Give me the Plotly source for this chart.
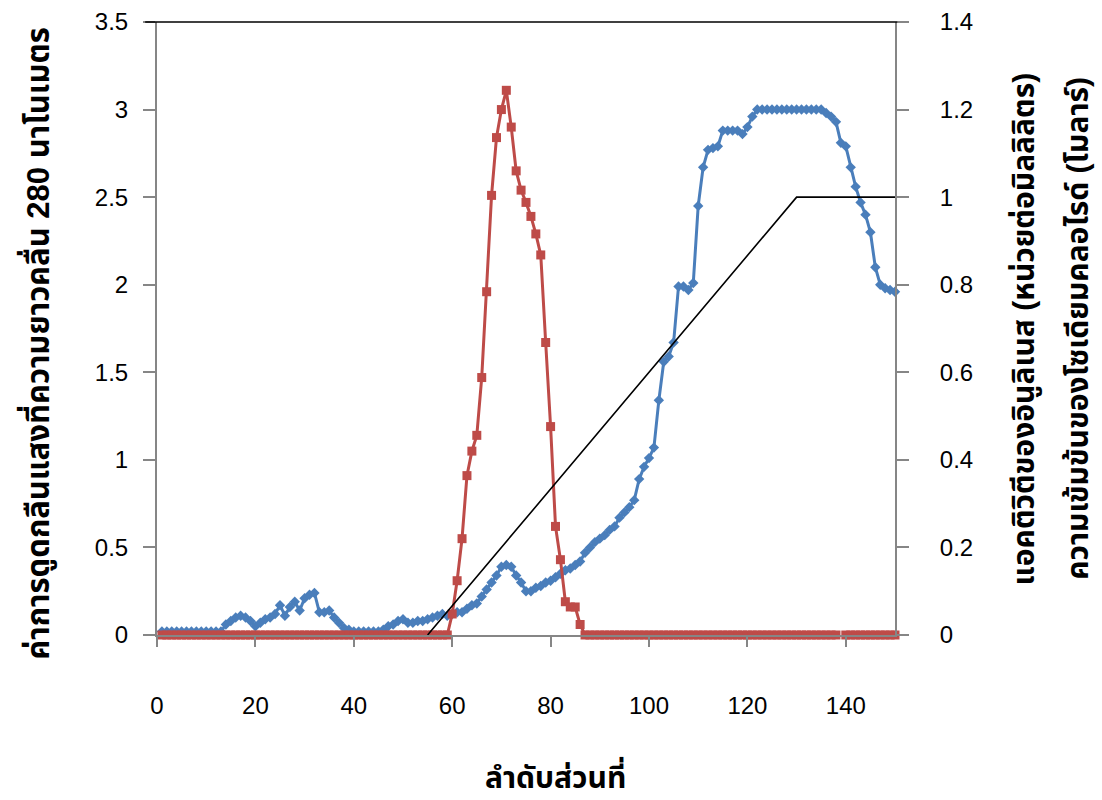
import plotly.graph_objects as go

fractions = list(range(1, 151))

absorbance_280 = (
    [0.02] * 13
    + [0.06, 0.08, 0.10, 0.11, 0.10, 0.08, 0.05, 0.07, 0.09, 0.10, 0.12, 0.17, 0.11, 0.16, 0.19, 0.14, 0.21, 0.23, 0.24,
       0.13, 0.13, 0.14, 0.10, 0.07, 0.04, 0.03]
    + [0.02] * 6
    + [0.03, 0.05, 0.06, 0.08, 0.09, 0.07, 0.07, 0.08, 0.08, 0.09, 0.10, 0.11, 0.12, 0.11, 0.12, 0.13, 0.13, 0.15,
       0.17, 0.18, 0.22, 0.26, 0.30, 0.34, 0.39, 0.40, 0.39, 0.34, 0.30, 0.25, 0.25, 0.27, 0.28, 0.30, 0.31, 0.33,
       0.35, 0.37, 0.38, 0.40, 0.42, 0.47, 0.50, 0.53, 0.55, 0.57, 0.60, 0.62, 0.67, 0.70, 0.73, 0.77, 0.89, 0.96,
       1.01, 1.07, 1.34, 1.56, 1.59, 1.67, 1.99, 1.99, 1.97, 2.01, 2.45, 2.67, 2.77, 2.78, 2.79, 2.88, 2.88, 2.88,
       2.88, 2.86, 2.90, 2.96]
    + [3.00] * 14
    + [2.98, 2.96, 2.93, 2.81, 2.79, 2.67, 2.56, 2.47, 2.40, 2.30, 2.10, 2.00, 1.98, 1.97, 1.96]
)

inulinase_activity = (
    [0.0] * 59
    + [0.12, 0.31, 0.55, 0.91, 1.05, 1.14, 1.47, 1.96, 2.51, 2.84, 3.00, 3.11, 2.90, 2.65, 2.54, 2.47, 2.39, 2.29,
       2.17, 1.67, 1.19, 0.62, 0.43, 0.19, 0.16, 0.16, 0.06]
    + [0.0] * 52
    + [None]
    + [0.0] * 11
)

nacl_x = [55, 130, 150]
nacl_molar = [0.0, 1.0, 1.0]

x_ticks = [0, 20, 40, 60, 80, 100, 120, 140]

FONT = "Liberation Sans, Arial, Noto Sans Thai, Tahoma, sans-serif"
GRAY = "#868686"
BLUE = "#4A7EBB"
RED = "#BE4B48"

fig = go.Figure()
fig.add_trace(go.Scatter(
    x=fractions, y=absorbance_280, mode="lines+markers",
    line=dict(color=BLUE, width=3),
    marker=dict(symbol="diamond", size=8, color=BLUE),
    cliponaxis=False, yaxis="y",
))
fig.add_trace(go.Scatter(
    x=fractions, y=inulinase_activity, mode="lines+markers",
    line=dict(color=RED, width=3),
    marker=dict(symbol="square", size=9, color=RED),
    connectgaps=False, cliponaxis=False, yaxis="y",
))
fig.add_trace(go.Scatter(
    x=nacl_x, y=nacl_molar, mode="lines",
    line=dict(color="black", width=1.6),
    cliponaxis=False, yaxis="y2",
))

fig.update_layout(
    width=1102, height=800,
    margin=dict(l=157, r=207, t=22, b=165, autoexpand=False),
    paper_bgcolor="white", plot_bgcolor="white",
    showlegend=False,
    font=dict(family=FONT, size=24, color="black"),
    xaxis=dict(
        range=[0, 150], tickvals=x_ticks, ticks="outside", ticklen=10, tickwidth=1.5, tickcolor=GRAY,
        showline=True, linecolor=GRAY, linewidth=2, showgrid=False, zeroline=False, automargin=False,
        ticklabelstandoff=38, tickfont=dict(size=24),
    ),
    yaxis=dict(
        range=[0, 3.5], dtick=0.5, ticks="outside", ticklen=12, tickwidth=1.5, tickcolor=GRAY,
        showline=True, linecolor=GRAY, linewidth=2, showgrid=False, zeroline=False, automargin=False,
        ticklabelstandoff=10, tickfont=dict(size=24),
    ),
    yaxis2=dict(
        range=[0, 1.4], dtick=0.2, overlaying="y", side="right", ticks="outside", ticklen=12, tickwidth=1.5,
        tickcolor=GRAY, showline=True, linecolor=GRAY, linewidth=2, showgrid=False, zeroline=False,
        automargin=False, ticklabelstandoff=26, tickfont=dict(size=24),
    ),
)

fig.add_shape(type="line", xref="paper", yref="paper", x0=-0.016, x1=1.003, y0=1, y1=1,
              line=dict(color="black", width=1.5))

fig.add_annotation(text="<b>ค่าการดูดกลืนแสงที่ความยาวคลื่น 280 นาโนเมตร</b>", xref="paper", yref="paper",
                   x=-0.1626, y=0.475, textangle=-90, showarrow=False, font=dict(size=31),
                   xanchor="center", yanchor="middle")
fig.add_annotation(text="<b>แอคติวิตีของอินูลิเนส (หน่วยต่อมิลลิลิตร)</b>", xref="paper", yref="paper",
                   x=1.176, y=0.5, textangle=-90, showarrow=False, font=dict(size=30),
                   xanchor="center", yanchor="middle")
fig.add_annotation(text="<b>ความเข้มข้นของโซเดียมคลอไรด์ (โมลาร์)</b>", xref="paper", yref="paper",
                   x=1.247, y=0.5, textangle=-90, showarrow=False, font=dict(size=30),
                   xanchor="center", yanchor="middle")
fig.add_annotation(text="<b>ลำดับส่วนที่</b>", xref="paper", yref="paper",
                   x=0.54, y=-0.228, showarrow=False, font=dict(size=30),
                   xanchor="center", yanchor="middle")

fig.write_html("out.html")
